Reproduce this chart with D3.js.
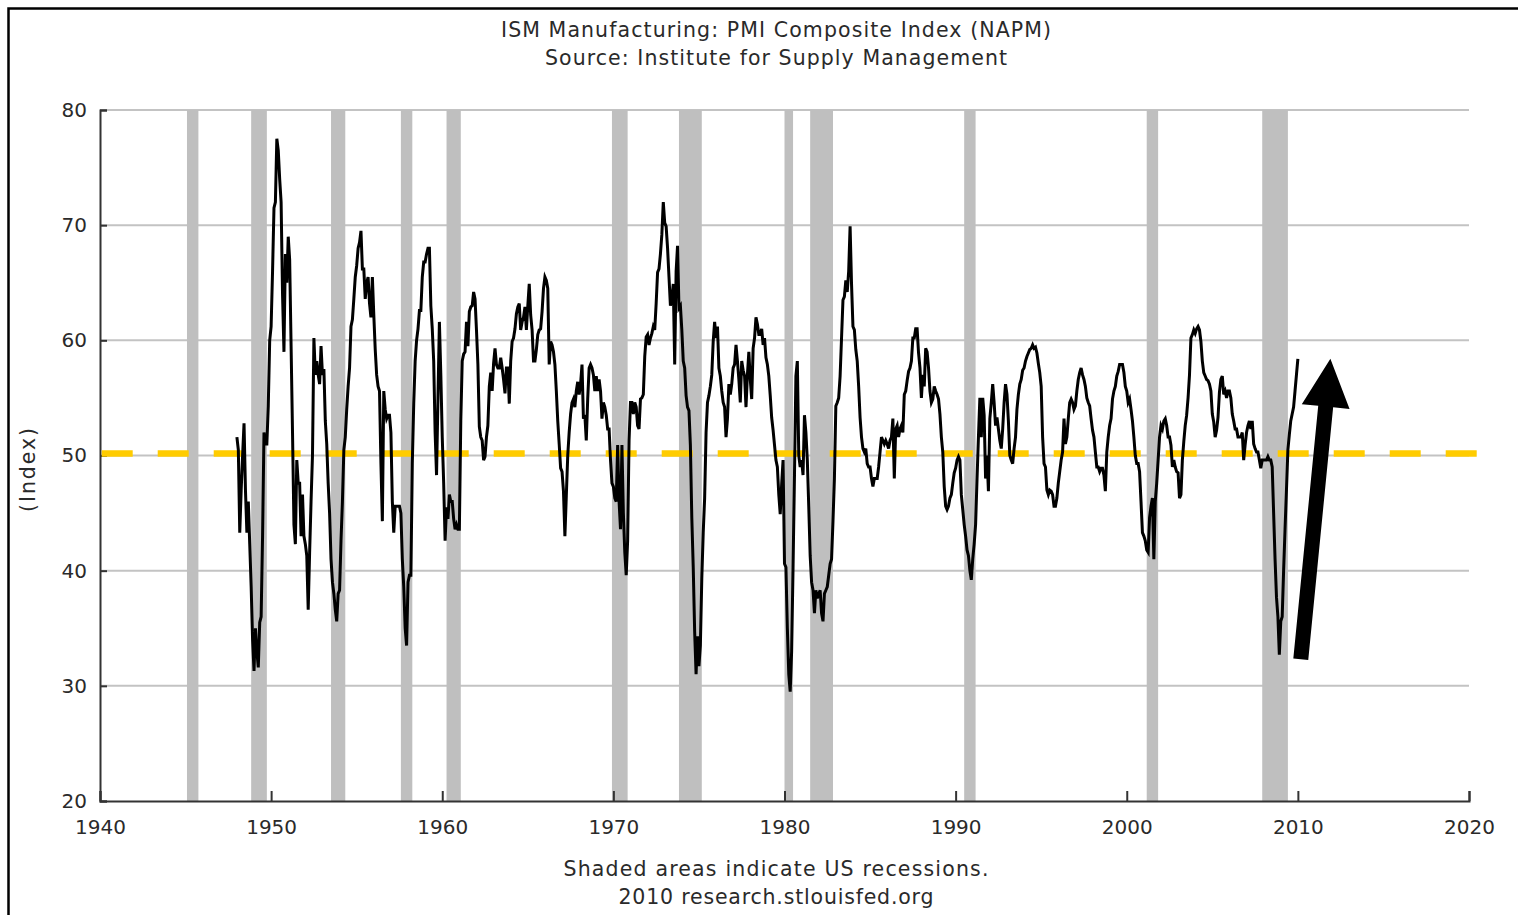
<!DOCTYPE html>
<html><head><meta charset="utf-8">
<script src="https://cdn.jsdelivr.net/npm/d3@7"></script>
<style>
body{margin:0;background:#fff}
svg{display:block}
text{font-family:"DejaVu Sans",Verdana,sans-serif;fill:#2a2a2a}
</style>
</head><body>
<svg id="chart" width="1518" height="915"></svg>
<script>
// ---- data ----
const titleLines = ["ISM Manufacturing: PMI Composite Index (NAPM)", "Source: Institute for Supply Management"];
const footerLines = ["Shaded areas indicate US recessions.", "2010 research.stlouisfed.org"];
const yAxisLabel = "(Index)";
const xTicks = [1940, 1950, 1960, 1970, 1980, 1990, 2000, 2010, 2020];
const yTicks = [20, 30, 40, 50, 60, 70, 80];
const startYear = 1948; // first monthly observation: Jan 1948
const pmi = [
  51.6, 50.5, 43.3, 47.0, 50.0, 52.8, 47.0, 43.3, 46.0, 42.3, 38.6, 34.0, // 1948
  31.3, 35.0, 33.0, 31.6, 35.5, 36.0, 43.0, 52.0, 51.0, 51.0, 54.3, 60.0, // 1949
  61.2, 66.0, 71.5, 72.0, 77.5, 76.5, 74.0, 72.0, 64.0, 59.0, 67.5, 65.0, // 1950
  69.0, 67.0, 59.5, 52.0, 44.0, 42.3, 49.6, 47.6, 47.6, 43.0, 46.6, 43.0, // 1951
  42.3, 41.3, 36.6, 41.6, 46.0, 50.0, 60.2, 57.0, 58.2, 57.0, 56.2, 59.5, // 1952
  57.0, 57.5, 53.0, 51.0, 47.6, 45.0, 41.0, 39.0, 38.0, 36.6, 35.6, 38.0, // 1953
  38.3, 42.6, 46.0, 50.5, 51.6, 54.0, 56.0, 57.6, 61.2, 61.8, 63.6, 65.5, // 1954
  66.5, 68.0, 68.5, 69.5, 66.2, 66.2, 63.6, 65.0, 65.5, 63.2, 62.0, 65.5, // 1955
  62.2, 59.2, 57.0, 56.0, 55.6, 49.3, 44.3, 55.6, 54.0, 53.2, 53.5, 53.5, // 1956
  52.0, 46.0, 43.3, 45.6, 45.6, 45.6, 45.6, 45.0, 41.0, 38.6, 35.0, 33.5, // 1957
  39.0, 39.6, 39.6, 49.3, 54.5, 58.2, 60.0, 61.0, 62.6, 62.6, 65.5, 66.8, // 1958
  66.8, 67.5, 68.0, 68.0, 63.0, 61.0, 58.2, 52.0, 48.3, 55.0, 61.6, 57.0, // 1959
  51.6, 47.6, 42.6, 45.5, 44.5, 46.6, 46.0, 46.0, 44.5, 43.6, 44.0, 43.6, // 1960
  43.6, 53.0, 58.2, 58.8, 59.0, 61.6, 59.5, 62.5, 62.9, 63.0, 64.2, 63.6, // 1961
  60.9, 57.9, 52.5, 51.6, 51.3, 49.6, 49.9, 51.6, 52.6, 56.0, 57.2, 55.6, // 1962
  58.0, 59.3, 57.9, 57.6, 57.6, 58.5, 57.6, 56.6, 55.4, 57.6, 57.6, 54.5, // 1963
  58.2, 59.9, 60.2, 61.0, 62.3, 62.9, 63.2, 60.9, 61.6, 62.0, 62.9, 60.9, // 1964
  63.0, 64.9, 62.2, 60.9, 58.2, 58.2, 59.2, 60.5, 60.9, 61.0, 62.5, 64.5, // 1965
  65.5, 65.2, 64.5, 57.9, 59.9, 59.6, 59.0, 57.9, 55.6, 53.0, 51.0, 48.9, // 1966
  48.6, 46.9, 43.0, 46.5, 50.0, 52.0, 53.6, 54.6, 54.9, 54.2, 55.6, 56.4, // 1967
  55.3, 56.2, 57.9, 53.2, 53.5, 51.3, 54.9, 57.6, 57.9, 57.6, 57.0, 55.6, // 1968
  56.9, 55.6, 56.6, 55.6, 53.2, 54.6, 54.2, 53.5, 52.3, 52.3, 49.6, 47.6, // 1969
  47.3, 46.3, 46.0, 50.9, 46.0, 43.6, 50.9, 45.0, 41.6, 39.6, 42.6, 51.3, // 1970
  54.6, 54.6, 53.6, 54.6, 54.2, 52.6, 52.3, 54.9, 55.0, 55.3, 58.6, 60.3, // 1971
  60.5, 59.6, 60.2, 60.6, 61.2, 60.9, 63.2, 65.9, 66.2, 67.5, 69.2, 72.0, // 1972
  70.2, 69.9, 68.0, 65.5, 63.0, 63.6, 64.9, 57.9, 66.0, 68.2, 62.8, 63.0, // 1973
  60.9, 58.2, 57.6, 55.2, 54.2, 53.9, 50.9, 44.6, 40.3, 34.7, 31.0, 34.3, // 1974
  31.7, 33.5, 39.3, 43.3, 46.3, 52.0, 54.6, 55.2, 56.0, 57.0, 59.9, 61.6, // 1975
  60.2, 61.2, 57.6, 56.9, 55.6, 54.6, 54.2, 51.6, 53.2, 56.2, 55.3, 56.2, // 1976
  57.6, 57.9, 59.6, 58.2, 56.6, 54.6, 58.2, 57.4, 56.9, 54.2, 57.0, 59.0, // 1977
  56.6, 54.9, 59.3, 60.2, 62.0, 61.4, 60.5, 60.5, 61.0, 59.6, 60.2, 58.5, // 1978
  57.9, 56.9, 55.2, 53.3, 52.2, 50.9, 49.6, 49.0, 46.6, 44.9, 47.5, 49.6, // 1979
  40.6, 40.3, 35.0, 31.0, 29.5, 33.0, 40.3, 48.3, 56.9, 58.2, 50.0, 49.0, // 1980
  49.6, 48.3, 53.5, 52.0, 49.6, 45.6, 41.3, 39.0, 38.3, 36.3, 38.3, 37.6, // 1981
  38.0, 38.3, 36.3, 35.6, 38.0, 38.3, 38.6, 39.6, 40.6, 41.0, 44.3, 48.0, // 1982
  54.3, 54.6, 55.0, 56.9, 60.2, 63.5, 63.8, 65.2, 64.2, 66.0, 69.9, 64.9, // 1983
  61.2, 60.9, 59.2, 58.2, 56.0, 53.3, 51.6, 50.6, 50.3, 50.6, 49.3, 49.0, // 1984
  49.0, 48.0, 47.3, 48.0, 48.0, 48.0, 49.0, 50.3, 51.6, 51.3, 51.0, 51.3, // 1985
  51.0, 50.6, 51.3, 51.6, 53.2, 48.0, 52.3, 52.6, 51.6, 52.3, 52.6, 52.0, // 1986
  55.3, 55.6, 56.5, 57.3, 57.6, 58.2, 60.2, 60.2, 61.0, 61.0, 58.9, 57.6, // 1987
  55.0, 57.0, 56.0, 59.3, 59.0, 57.6, 55.6, 54.6, 54.9, 56.0, 55.6, 55.3, // 1988
  54.9, 53.6, 51.6, 50.3, 47.3, 45.6, 45.3, 45.6, 46.3, 46.6, 47.6, 48.5, // 1989
  48.9, 49.6, 49.9, 49.6, 46.6, 45.3, 44.0, 43.0, 41.8, 41.3, 40.0, 39.2, // 1990
  41.0, 42.3, 44.0, 47.9, 51.6, 55.0, 51.6, 55.0, 53.5, 48.0, 50.0, 46.9, // 1991
  53.2, 54.6, 56.2, 54.6, 52.6, 53.3, 52.3, 51.3, 50.6, 52.3, 54.6, 56.2, // 1992
  55.3, 53.0, 50.0, 49.6, 49.3, 50.6, 51.6, 54.0, 55.3, 56.2, 56.6, 57.4, // 1993
  57.6, 58.2, 58.6, 58.9, 59.2, 59.3, 59.6, 59.3, 59.4, 58.9, 58.0, 57.2, // 1994
  56.0, 51.6, 49.3, 49.0, 47.0, 46.6, 47.0, 46.9, 46.6, 45.6, 45.6, 46.3, // 1995
  47.6, 48.6, 49.6, 50.3, 53.2, 51.0, 51.6, 53.2, 54.6, 54.9, 54.6, 54.0, // 1996
  54.3, 55.6, 56.6, 57.2, 57.6, 57.0, 56.6, 56.0, 55.0, 54.6, 54.3, 53.2, // 1997
  52.2, 51.6, 50.3, 49.0, 49.0, 48.6, 48.9, 48.9, 48.3, 46.9, 50.3, 51.6, // 1998
  52.6, 53.2, 54.9, 55.6, 56.0, 56.9, 57.3, 57.9, 57.9, 57.9, 57.2, 56.0, // 1999
  55.6, 54.6, 54.9, 54.0, 53.0, 51.6, 50.0, 49.3, 49.3, 48.6, 46.0, 43.3, // 2000
  43.0, 42.6, 41.8, 41.6, 44.6, 45.6, 46.3, 41.0, 46.0, 47.6, 49.6, 51.6, // 2001
  52.6, 52.3, 53.0, 53.2, 52.6, 51.6, 51.6, 50.9, 49.0, 49.6, 49.0, 48.6, // 2002
  48.5, 46.3, 46.6, 49.6, 51.2, 52.6, 53.5, 55.0, 57.0, 60.2, 60.5, 60.9, // 2003
  60.6, 61.0, 61.2, 60.9, 59.9, 58.2, 57.2, 56.9, 56.6, 56.5, 56.2, 55.6, // 2004
  53.6, 52.9, 51.6, 52.2, 53.3, 55.5, 56.6, 56.9, 55.3, 55.6, 55.0, 55.6, // 2005
  55.6, 55.0, 53.6, 53.0, 52.3, 52.3, 51.6, 51.6, 51.6, 52.0, 49.6, 50.9, // 2006
  52.0, 52.6, 53.0, 52.3, 53.0, 51.0, 50.6, 50.3, 50.3, 49.6, 48.9, 49.6, // 2007
  49.6, 49.6, 49.6, 49.9, 49.6, 49.6, 49.0, 45.0, 41.0, 37.7, 36.0, 32.7, // 2008
  35.6, 36.0, 40.0, 43.6, 47.0, 50.5, 51.8, 53.0, 53.6, 54.2, 55.6, 57.0, // 2009
  58.4                                                                    // 2010
];
// US recessions (NBER peak month, trough month)
const recessionStart = ["1945-02","1948-11","1953-07","1957-08","1960-04","1969-12","1973-11","1980-01","1981-07","1990-07","2001-03","2007-12"];
const recessionEnd   = ["1945-10","1949-10","1954-05","1958-04","1961-02","1970-11","1975-03","1980-07","1982-11","1991-03","2001-11","2009-06"];
const refLevel = 50;           // dashed expansion/contraction threshold
const refExtent = [1940.1, 2020.6];
const arrowFrom = [2010.17, 32.3];
const arrowTo = [2011.9, 58.4];

// ---- chart ----
const svg = d3.select("#chart");
const W = 1518, H = 915;
const x = d3.scaleLinear().domain([1940, 2020]).range([100, 1469]);
const y = d3.scaleLinear().domain([20, 80]).range([801, 110]);
const ym = s => { const [a, b] = s.split("-").map(Number); return a + (b - 1) / 12; };

svg.append("rect").attr("width", W).attr("height", H).attr("fill", "#fff");
// outer frame (top and left edges visible)
svg.append("path").attr("d", `M8.5,${H + 5} V8.5 H${W + 5}`).attr("fill", "none").attr("stroke", "#000").attr("stroke-width", 2.5);

// gridlines
svg.append("g").selectAll("line").data(yTicks.filter(v => v > 20)).join("line")
  .attr("x1", x(1940)).attr("x2", x(2020)).attr("y1", d => y(d)).attr("y2", d => y(d))
  .attr("stroke", "#c3c3c3").attr("stroke-width", 2);

// recession shading
svg.append("g").selectAll("rect").data(recessionStart.map((s, i) => [ym(s), ym(recessionEnd[i])])).join("rect")
  .attr("x", d => x(d[0])).attr("width", d => x(d[1]) - x(d[0]))
  .attr("y", y(80)).attr("height", y(20) - y(80)).attr("fill", "#bfbfbf");

// axes
const xAxis = d3.axisBottom(x).tickValues(xTicks).tickFormat(d3.format("d")).tickSize(-10).tickPadding(19);
const gx = svg.append("g").attr("transform", `translate(0,${y(20)})`).call(xAxis);
gx.select(".domain").attr("stroke", "#333").attr("stroke-width", 2);
gx.selectAll(".tick line").attr("stroke", "#333").attr("stroke-width", 2);
gx.selectAll(".tick text").attr("font-size", 20).attr("fill", "#2a2a2a").attr("font-family", "DejaVu Sans");

const yAxis = d3.axisLeft(y).tickValues(yTicks).tickSize(-7).tickPadding(13);
const gy = svg.append("g").attr("transform", `translate(${x(1940)},0)`).call(yAxis);
gy.select(".domain").attr("stroke", "#333").attr("stroke-width", 2);
gy.selectAll(".tick line").attr("stroke", "#333").attr("stroke-width", 2);
gy.selectAll(".tick text").attr("font-size", 20).attr("fill", "#2a2a2a").attr("font-family", "DejaVu Sans");

// reference dashed line at 50
svg.append("line")
  .attr("x1", x(refExtent[0])).attr("x2", x(refExtent[1]))
  .attr("y1", y(refLevel) - 2).attr("y2", y(refLevel) - 2)
  .attr("stroke", "#ffcc00").attr("stroke-width", 6.5).attr("stroke-dasharray", "31 25");

// PMI line
const line = d3.line().x((d, i) => x(startYear + i / 12)).y(d => y(d));
svg.append("path").datum(pmi).attr("d", line)
  .attr("fill", "none").attr("stroke", "#000").attr("stroke-width", 3).attr("stroke-linejoin", "miter");

// annotation arrow
{
  const x0 = x(arrowFrom[0]), y0 = y(arrowFrom[1]), x1 = x(arrowTo[0]), y1 = y(arrowTo[1]);
  const L = Math.hypot(x1 - x0, y1 - y0), ux = (x1 - x0) / L, uy = (y1 - y0) / L, nx = -uy, ny = ux;
  const hw = 7.5, headLen = 48, headHw = 24;
  const bx = x1 - ux * headLen, by = y1 - uy * headLen;
  const pts = [
    [x0 + nx * hw, y0 + ny * hw], [bx + nx * hw, by + ny * hw], [bx + nx * headHw, by + ny * headHw],
    [x1, y1],
    [bx - nx * headHw, by - ny * headHw], [bx - nx * hw, by - ny * hw], [x0 - nx * hw, y0 - ny * hw]
  ];
  svg.append("polygon").attr("points", pts.map(p => p.join(",")).join(" ")).attr("fill", "#000");
}

// titles (widths matched to the reference rendering)
const cx = 776;
const titleWidths = [550, 462];
const footerWidths = [425, 315];
svg.append("g").selectAll("text").data(titleLines).join("text")
  .attr("x", cx).attr("y", (d, i) => 37 + i * 28).attr("text-anchor", "middle").attr("font-size", 20.5)
  .attr("textLength", (d, i) => titleWidths[i]).attr("lengthAdjust", "spacing").text(d => d);
svg.append("g").selectAll("text").data(footerLines).join("text")
  .attr("x", cx).attr("y", (d, i) => 876 + i * 28).attr("text-anchor", "middle").attr("font-size", 20.5)
  .attr("textLength", (d, i) => footerWidths[i]).attr("lengthAdjust", "spacing").text(d => d);
svg.append("text").attr("transform", `translate(35,470) rotate(-90)`).attr("text-anchor", "middle")
  .attr("font-size", 20.5).attr("textLength", 84).attr("lengthAdjust", "spacing").text(yAxisLabel);
</script>
</body></html>
